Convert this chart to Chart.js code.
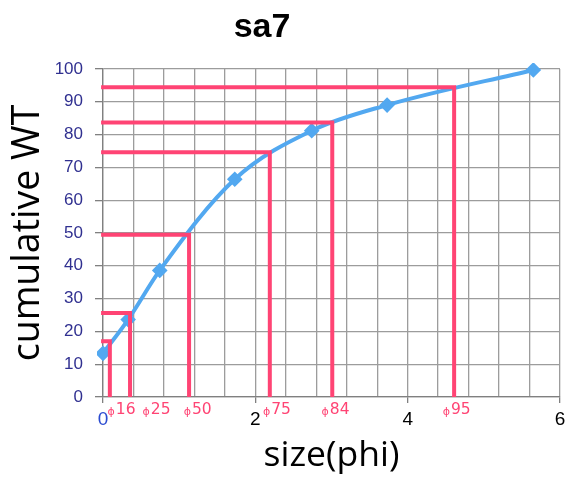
<!DOCTYPE html>
<html>
<head>
<meta charset="utf-8">
<script src="https://cdn.jsdelivr.net/npm/chart.js@4.4.1/dist/chart.umd.min.js"></script>
<style>
  html, body { margin: 0; padding: 0; background: #fff; }
  #wrap { width: 582px; height: 479px; }
</style>
</head>
<body>
<div id="wrap"><canvas id="c" width="582" height="479"></canvas></div>
<script>
// cumulative curve (size in phi vs cumulative weight %)
const sizePhi = [0, 0.33, 0.745, 1.73, 2.74, 3.73, 5.65];
const cumWt = [13.3, 23.6, 38.6, 66.4, 81.2, 89.0, 99.7];

// percentile markers
const pctNames = ['16', '25', '50', '75', '84', '95'];
const pctPhi = [0.09, 0.355, 1.13, 2.19, 3.01, 4.61];
const pctWt = [17.0, 25.6, 49.5, 74.6, 83.7, 94.4];
const pctLabelX = [0.06, 0.52, 1.06, 2.10, 2.87, 4.46];

const xTickLabels = [0, 2, 4, 6];

const BLUE = '#52a8f0';
const RED = '#ff4474';
const GRID = '#9c9c9c';

const isMajor = (v) => xTickLabels.some(t => Math.abs(t - v) < 1e-6);

const guideSets = pctNames.map((n, i) => ({
  label: 'phi' + n,
  data: [
    { x: -0.025, y: pctWt[i] },
    { x: pctPhi[i], y: pctWt[i] },
    { x: pctPhi[i], y: 0 },
  ],
  borderColor: RED,
  borderWidth: 4,
  pointRadius: 0,
  tension: 0,
  clip: 4,
  order: 0,
}));

// title over the plot + small phi labels under the axis
const extraText = {
  id: 'extraText',
  afterDraw(chart) {
    const { ctx, scales: { x } } = chart;
    ctx.save();
    ctx.fillStyle = '#000';
    ctx.textAlign = 'center';
    ctx.textBaseline = 'alphabetic';
    ctx.font = 'bold 34px "Liberation Sans"';
    ctx.fillText('sa7', 262, 37);

    ctx.fillStyle = RED;
    ctx.textAlign = 'left';
    pctNames.forEach((n, i) => {
      const px = x.getPixelForValue(pctLabelX[i]);
      ctx.font = '11px "DejaVu Sans"';
      ctx.fillText('ɸ', px, 415);
      const w = ctx.measureText('ɸ').width;
      ctx.font = '15.5px "DejaVu Sans"';
      ctx.fillText(n, px + w + 1, 414);
    });
    ctx.restore();
  }
};

new Chart(document.getElementById('c'), {
  type: 'line',
  data: {
    datasets: [
      {
        label: 'sa7',
        data: sizePhi.map((v, i) => ({ x: v, y: cumWt[i] })),
        borderColor: BLUE,
        backgroundColor: BLUE,
        borderWidth: 4,
        pointStyle: 'rectRot',
        pointRadius: 5,
        cubicInterpolationMode: 'monotone',
        clip: 6,
        order: 1,
      },
      ...guideSets,
    ]
  },
  options: {
    responsive: false,
    animation: false,
    devicePixelRatio: 1,
    layout: { padding: { left: 0, right: 22, top: 69, bottom: 0 } },
    plugins: {
      legend: { display: false },
      tooltip: { enabled: false },
      title: { display: false },
    },
    scales: {
      x: {
        type: 'linear',
        min: 0,
        max: 6,
        afterFit: (s) => { s.height = 82; },
        ticks: {
          stepSize: 0.4,
          autoSkip: false,
          maxRotation: 0,
          padding: 5,
          color: (c) => (c.tick && Math.abs(c.tick.value) < 1e-6) ? '#2a4bd0' : '#000',
          font: { family: 'Liberation Sans', size: 19 },
          callback: (v) => isMajor(v) ? String(Math.round(v)) : '',
        },
        grid: {
          color: GRID,
          lineWidth: 1.3,
          tickLength: 6,
          tickColor: (c) => (c.tick && isMajor(c.tick.value)) ? '#808080' : 'rgba(0,0,0,0)',
        },
        border: { color: '#808080', width: 1.3 },
        title: {
          display: true,
          text: 'size(phi)',
          color: '#000',
          font: { family: 'Open Sans', size: 35.5 },
          padding: { top: 0, bottom: 2 },
        },
      },
      y: {
        min: 0,
        max: 100,
        afterFit: (s) => { s.width = 103; },
        ticks: {
          stepSize: 10,
          padding: 12,
          color: '#303090',
          font: { family: 'Liberation Sans', size: 17 },
        },
        grid: {
          color: GRID,
          lineWidth: 1.3,
          tickLength: 8,
          tickColor: '#808080',
        },
        border: { color: '#808080', width: 1.3 },
        title: {
          display: true,
          text: 'cumulative WT',
          color: '#000',
          font: { family: 'Open Sans', size: 37.5 },
          padding: { top: 6, bottom: 0 },
        },
      },
    },
  },
  plugins: [extraText],
});
</script>
</body>
</html>
